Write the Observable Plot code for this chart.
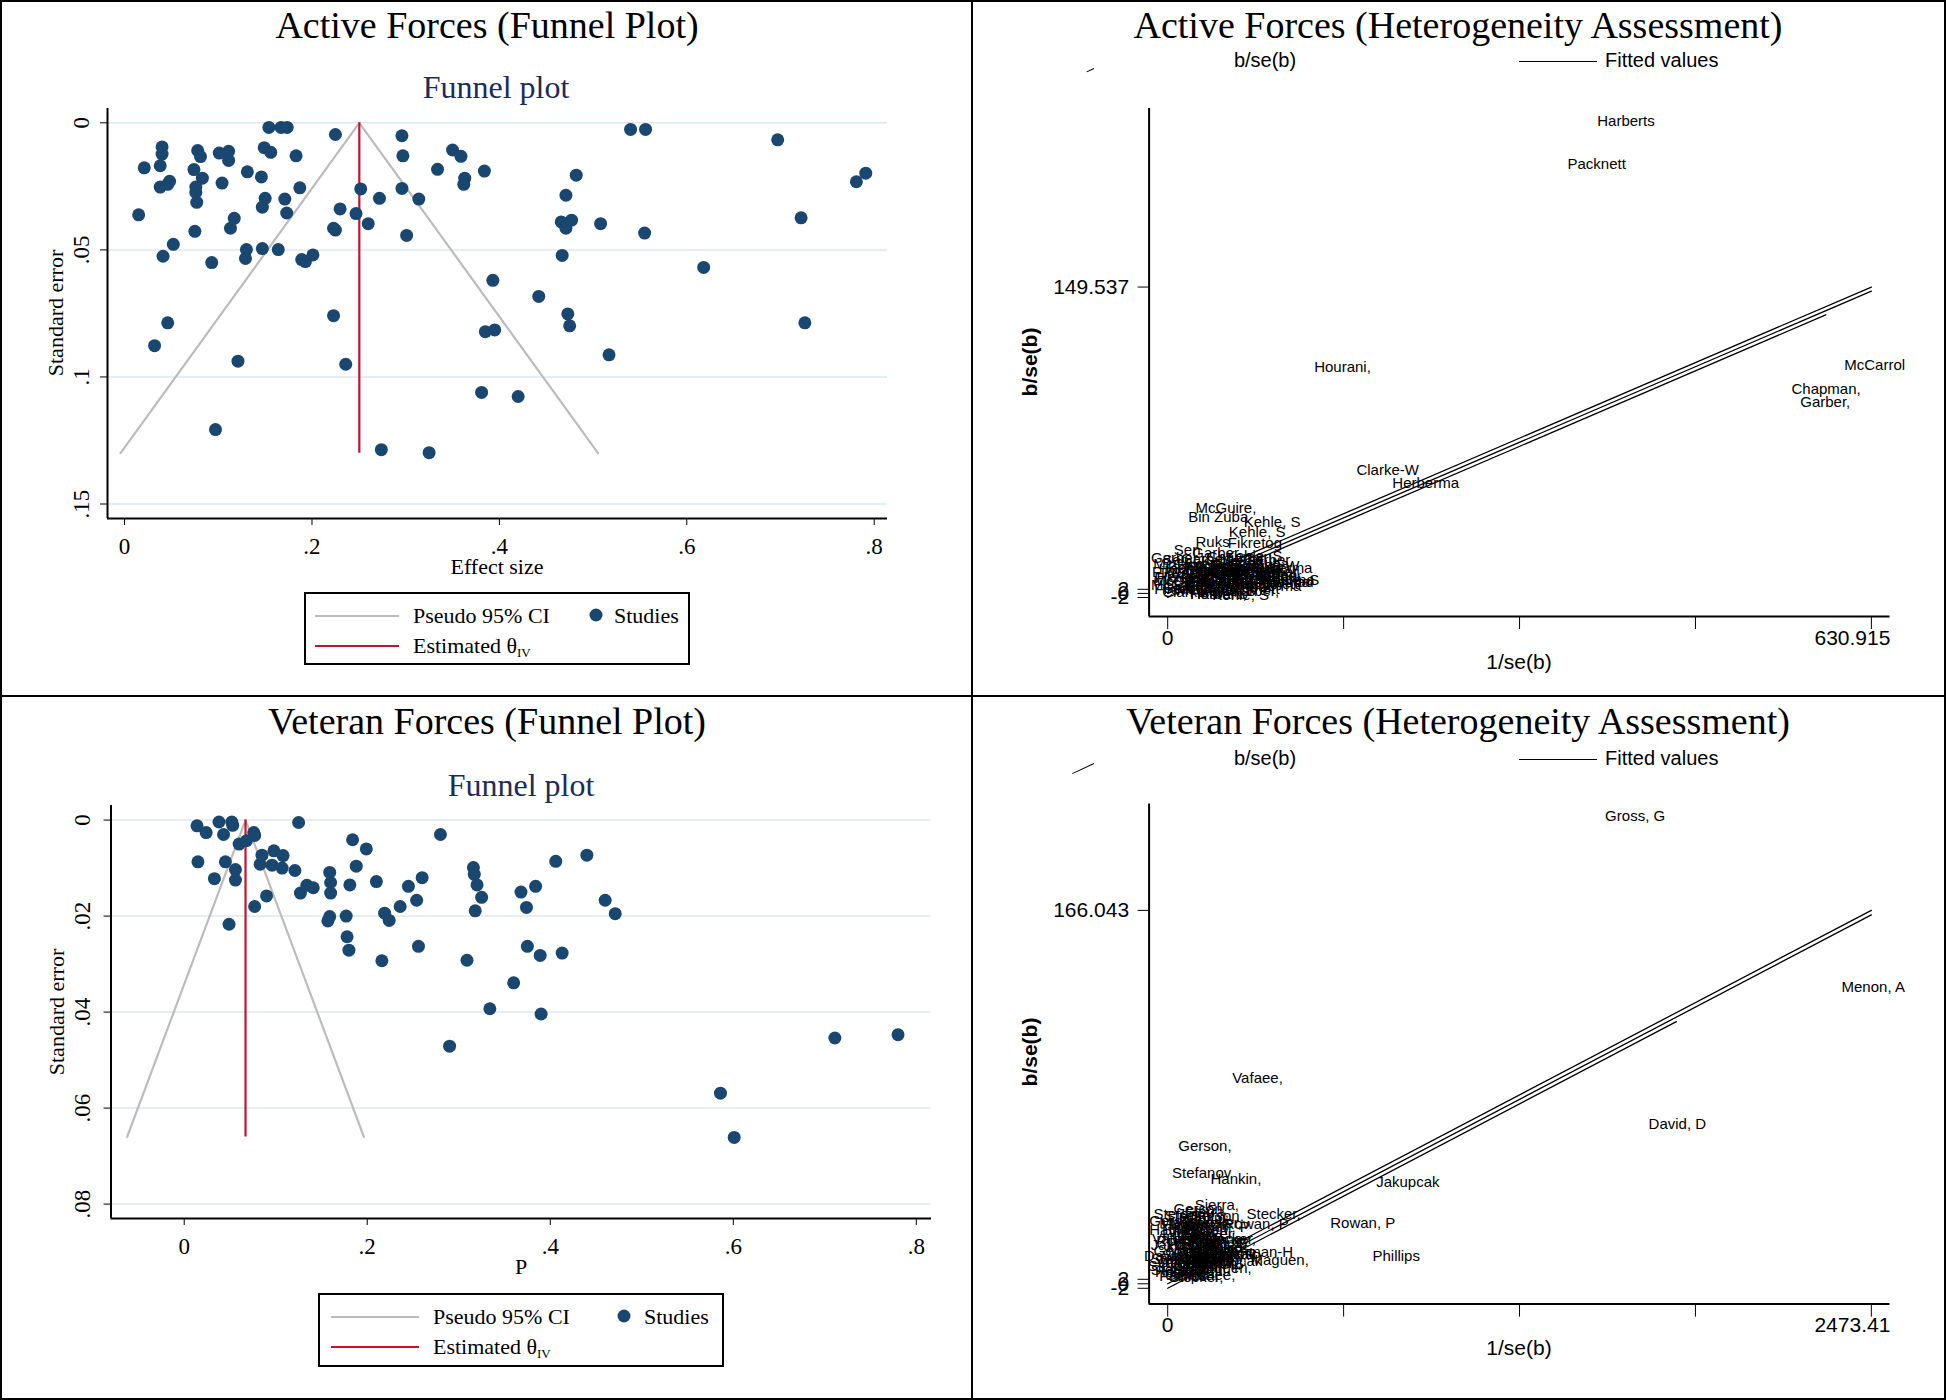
<!DOCTYPE html>
<html>
<head>
<meta charset="utf-8">
<script src="https://cdn.jsdelivr.net/npm/d3@7"></script>
<script src="https://cdn.jsdelivr.net/npm/@observablehq/plot@0.6"></script>
<style>
  html, body { margin: 0; padding: 0; background: #fff; }
  #page { position: relative; width: 1946px; height: 1400px; overflow: hidden; background: #fff; }
  .abs { position: absolute; }
  .c { transform: translate(-50%, -50%); white-space: nowrap; line-height: 1; }
  .serif { font-family: "Liberation Serif", "Times New Roman", serif; color: #000; }
  .sans { font-family: "Liberation Sans", Arial, sans-serif; color: #000; }
  .title { font-size: 38px; }
  .subtitle { font-size: 32px; color: #1c2b58; }
  .axt { font-size: 22px; }
  .rot { transform: translate(-50%, -50%) rotate(-90deg); white-space: nowrap; line-height: 1; }
  .legbox { position: absolute; border: 2px solid #000; box-sizing: border-box; background: #fff; }
  .legbox .it { position: absolute; transform: translateY(-50%); white-space: nowrap; line-height: 1; font-size: 22px; }
  .legbox .ln { position: absolute; height: 0; transform: translateY(-50%); }
  .legbox .dt { position: absolute; width: 13px; height: 13px; border-radius: 50%; background: #1a476f; transform: translate(-50%, -50%); }
  sub { font-size: 13px; vertical-align: -4px; }
  .plot { position: absolute; }
</style>
</head>
<body>
<div id="page"></div>
<script>
// ---------------- DATA ----------------
// Active forces funnel plot: effect size and standard error of each study
const activeEffect = [0.154,0.167,0.1735,0.225,0.296,0.540,0.556,0.697,0.040,0.040,0.078,0.081,0.101,0.111,0.111,0.149,0.156,0.183,0.297,0.350,0.359,0.021,0.038,0.074,0.083,0.104,0.131,0.146,0.187,0.038,0.046,0.048,0.076,0.076,0.077,0.150,0.171,0.147,0.173,0.015,0.117,0.113,0.075,0.052,0.041,0.093,0.130,0.129,0.147,0.164,0.189,0.193,0.201,0.223,0.225,0.230,0.247,0.252,0.260,0.272,0.296,0.301,0.314,0.334,0.363,0.362,0.384,0.482,0.471,0.466,0.471,0.477,0.467,0.508,0.555,0.618,0.722,0.781,0.791,0.393,0.442,0.473,0.475,0.385,0.395,0.517,0.726,0.223,0.046,0.032,0.121,0.236,0.381,0.420,0.097,0.274,0.325];
const activeSE = [0.0018,0.0018,0.0018,0.0046,0.0051,0.0026,0.0026,0.0067,0.0095,0.0123,0.0109,0.0133,0.0119,0.0112,0.0148,0.0098,0.0116,0.0130,0.0130,0.0107,0.0132,0.0177,0.0169,0.0184,0.0218,0.0237,0.0193,0.0213,0.0256,0.0253,0.0242,0.0230,0.0253,0.0274,0.0313,0.0297,0.0300,0.0332,0.0355,0.0362,0.0376,0.0415,0.0427,0.0478,0.0525,0.0550,0.0499,0.0534,0.0495,0.0499,0.0538,0.0546,0.0520,0.0415,0.0422,0.0339,0.0357,0.0260,0.0397,0.0297,0.0258,0.0443,0.0300,0.0183,0.0218,0.0242,0.0190,0.0206,0.0285,0.0390,0.0415,0.0383,0.0522,0.0397,0.0434,0.0569,0.0374,0.0232,0.0198,0.0620,0.0683,0.0752,0.0799,0.0822,0.0815,0.0913,0.0787,0.0759,0.0787,0.0877,0.0938,0.0950,0.1061,0.1077,0.1207,0.1286,0.1298];
const activeTheta = 0.2505;
const activeSeMax = 0.13;
const activeXTicks = [0, 0.2, 0.4, 0.6, 0.8];
const activeXTickLabels = ["0", ".2", ".4", ".6", ".8"];
const activeYTicks = [0, 0.05, 0.1, 0.15];
const activeYTickLabels = ["0", ".05", ".1", ".15"];

// Veteran forces funnel plot: proportion P and standard error
const veteranP = [0.014,0.024,0.038,0.043,0.052,0.053,0.060,0.068,0.076,0.077,0.125,0.015,0.045,0.033,0.056,0.056,0.083,0.085,0.098,0.096,0.108,0.107,0.121,0.077,0.090,0.049,0.127,0.134,0.141,0.184,0.199,0.280,0.159,0.160,0.160,0.181,0.188,0.210,0.245,0.260,0.254,0.236,0.219,0.224,0.159,0.157,0.177,0.178,0.180,0.216,0.256,0.316,0.317,0.320,0.325,0.318,0.309,0.368,0.384,0.374,0.375,0.389,0.413,0.406,0.440,0.460,0.471,0.360,0.334,0.390,0.290,0.586,0.601,0.711,0.780];
const veteranSE = [0.0012,0.0026,0.0004,0.0030,0.0004,0.0011,0.0050,0.0043,0.0026,0.0032,0.0005,0.0087,0.0087,0.0122,0.0103,0.0125,0.0092,0.0073,0.0064,0.0094,0.0074,0.0100,0.0105,0.0180,0.0158,0.0217,0.0152,0.0136,0.0141,0.0041,0.0060,0.0030,0.0109,0.0130,0.0152,0.0135,0.0096,0.0128,0.0138,0.0120,0.0167,0.0180,0.0194,0.0209,0.0201,0.0210,0.0200,0.0243,0.0271,0.0293,0.0263,0.0099,0.0113,0.0135,0.0161,0.0189,0.0292,0.0150,0.0138,0.0182,0.0263,0.0282,0.0277,0.0086,0.0073,0.0167,0.0195,0.0339,0.0393,0.0404,0.0471,0.0569,0.0661,0.0454,0.0447];
const veteranTheta = 0.067;
const veteranSeMax = 0.066;
const veteranXTicks = [0, 0.2, 0.4, 0.6, 0.8];
const veteranXTickLabels = ["0", ".2", ".4", ".6", ".8"];
const veteranYTicks = [0, 0.02, 0.04, 0.06, 0.08];
const veteranYTickLabels = ["0", ".02", ".04", ".06", ".08"];

// Active forces Galbraith (heterogeneity) plot: study labels at (1/se(b), b/se(b))
const activeGalNames = ["Harberts","Packnett","Hourani,","McCarrol","Chapman,","Garber,","Clarke-W","Herberma","McGuire,","Bin Zuba","Kehle, S","Kehle, S","Ruks","Fikretog","Sen","Garber,","Chapman,","Kehle, S","Garber,","McGuire,","Hourani,","Clarke-W","Bin Zuba","Herberma","Fikretog","Packnett","Harberts","Kehle, S","Chapman,","Garber,","McCarrol","Clarke-W","Hourani,","Bin Zuba","Hoystad","Herberma","Fikretog","McGuire,","Kehle, S","Packnett",
  "Sen","Garber,","Kehle, S","Bin Zuba","Hourani,","Chapman,","Clarke-W","McGuire,","Garber,","Herberma","Packnett","Harberts","Fikretog","McCarrol","Chapman,","Bin Zuba","Garber,","Clarke-W","Hourani,","Kehle, S","Packnett","Herberma",
  "Garber,","Kehle, S","Chapman,","Bin Zuba","Clarke-W","Fikretog","Hourani,","McGuire,","Herberma","Garber,","Packnett","Chapman,","Kehle, S","Harberts"];
const activeGalInvSE = [385.1,358.4,131.3,606.6,559.3,567.1,169.2,201.4,24.9,18.4,68.2,54.8,24.9,53.9,5.5,22,35,52,68,-13,8,28,48,70,-14,3,20,38,58,78,-13,5,25,45,81.5,60,-12,8,28,48,
  -5,12,30,55,-8,15,35,60,75,-10,12,32,52,-15,15,35,55,-5,20,40,65,72,
  -15,0,18,40,62,-12,28,50,68,-5,15,38,85,20];
const activeGalZ = [230.6,209.7,110.3,111.4,99.8,93.3,60.2,53.8,41.8,37.2,34.8,29.9,25.0,24.7,20.9,19.5,17.5,18,16,14.5,14,13.5,12.5,12.5,10.5,10,9.5,9,9,8.5,6,5.5,6,5,5.5,3.5,2,1.5,1,2,
  16,16.5,15.5,14.5,12,11.5,11,10.5,10.5,8,7.5,7,7,4,3.5,3,1,0.5,-0.5,-1,4.5,6.5,
  17,12.5,13,14,13.5,7.5,4.5,9.5,5.5,2.5,5,11.5,6.5,-0.5];
const activeGalSlope = 0.23385;
const activeGalInvSEMax = 630.915;
const activeGalLowerEnd = 590;
const activeGalXTicks = [0, 157.729, 315.458, 473.186, 630.915];
const activeGalXTickLabels = ["0", "", "", "", "630.915"];
const activeGalYTicks = [-2, 0, 2, 149.537];
const activeGalYTickLabels = ["-2", "0", "2", "149.537"];

// Veteran forces Galbraith plot
const veteranGalNames = ["Gross, G","Menon, A","Vafaee,","David, D","Gerson,","Stefanov","Hankin,","Jakupcak","Stecker,","Rowan, P","Rowan, P","Phillips","Maguen,","Sierra,","Rahman-H","Haskell,","David, D","Gerson,","Stecker,","Hankin,","Maguen,","Rowan, P","Phillips","Vafaee,","Stefanov","Jakupcak","Haskell,","Gerson,","Hankin,","Stecker,","Maguen,","Rowan, P","Menon, A","Phillips","Vafaee,","Gross, G","Hankin,","Jakupcak","Stefanov","Gerson,","Maguen,","Sierra,","Stecker,",
  "Stefanov","Gerson,","Maguen,","Haskell,","Hankin,","Vafaee,","Stecker,","Rowan, P","Phillips","Gross, G","Gerson,","Maguen,","Hankin,","Haskell,","Stecker,","Vafaee,","Stefanov","Rowan, P","Phillips","Jakupcak",
  "Gerson,","Hankin,","Maguen,","Stecker,","Vafaee,","Haskell,","Rowan, P","Phillips","Stefanov","Gerson,","Maguen,","Hankin,","Haskell,","Stecker,","Vafaee,","Rowan, P","Phillips"];
const veteranGalInvSE = [1537.6,2368.6,226.8,1690.3,37.1,15.3,150.5,732.8,277,571.4,197,719.7,291,95,186,17,-83,20,-10,40,10,60,-20,30,80,-60,0,50,100,-20,30,80,30,130,-40,10,60,110,-60,-10,90,60,120,
  -50,80,-30,30,-65,0,50,-40,20,70,-50,0,60,-30,20,70,-70,40,-30,90,
  -65,-20,20,70,-55,-5,45,95,-60,-10,40,80,-45,5,60,100,120];
const veteranGalZ = [208.0,131.8,91.4,71.0,61.0,49.0,46.4,45.0,31.1,27.0,26.7,12.4,10.4,34.8,14,5.9,12.2,33,30,29,26,25,22,21,20,17,17,16,16,12.5,12,13,14,13,9,8.5,9,10,6,4,7,32,20,
  31,30,27,27,24,23,22,19,19,18,14.5,15,15,11,10.5,11,8,7,3.5,13,
  28,26,24,27,20,20,18,18,11,9,10,9,5,3,4,12,16];
const veteranGalSlope = 0.06632;
const veteranGalInvSEMax = 2473.41;
const veteranGalLowerEnd = 1788;
const veteranGalXTicks = [0, 618.3525, 1236.705, 1855.0575, 2473.41];
const veteranGalXTickLabels = ["0", "", "", "", "2473.41"];
const veteranGalYTicks = [-2, 0, 2, 166.043];
const veteranGalYTickLabels = ["-2", "0", "2", "166.043"];

// ---------------- COLOURS ----------------
const NAVY = "#1a476f";
const CRANBERRY = "#c4122f";
const CI_GREY = "#bcbcbc";
const GRID = "#dde8eb";

// ---------------- HELPERS ----------------
const page = document.getElementById("page");
function el(html) { const d = document.createElement("div"); d.innerHTML = html; const n = d.firstElementChild; page.appendChild(n); return n; }
function labelMap(ticks, labels) { const m = new Map(ticks.map((t, i) => [t, labels[i]])); return d => m.has(d) ? m.get(d) : ""; }

function funnelPlot(cfg) {
  const pts = cfg.effect.map((e, i) => ({effect: e, se: cfg.se[i]}));
  const ci = [
    {effect: cfg.theta - 1.96 * cfg.seMax, se: cfg.seMax},
    {effect: cfg.theta, se: 0},
    {effect: cfg.theta + 1.96 * cfg.seMax, se: cfg.seMax}
  ];
  const yLab = labelMap(cfg.yTicks, cfg.yTickLabels);
  return Plot.plot({
    width: 973, height: 700,
    marginLeft: cfg.ml, marginRight: cfg.mr, marginTop: cfg.mt, marginBottom: cfg.mb,
    style: {background: "transparent", fontFamily: "'Liberation Serif', 'Times New Roman', serif", fontSize: "23px", color: "#000", overflow: "visible"},
    x: {domain: cfg.xDomain, ticks: cfg.xTicks, tickFormat: labelMap(cfg.xTicks, cfg.xTickLabels), tickSize: 7, tickPadding: cfg.xPad, label: null},
    y: {domain: cfg.yDomain, reverse: true, ticks: cfg.yTicks, tickFormat: () => "", tickSize: 7, label: null},
    marks: [
      Plot.ruleY(cfg.yTicks, {stroke: GRID, strokeWidth: 1.5}),
      Plot.line(ci, {x: "effect", y: "se", stroke: CI_GREY, strokeWidth: 2.2}),
      Plot.ruleX([cfg.theta], {y1: 0, y2: cfg.seMax, stroke: CRANBERRY, strokeWidth: 2.2}),
      Plot.dot(pts, {x: "effect", y: "se", r: 6.5, fill: NAVY, stroke: null}),
      Plot.ruleX([cfg.xDomain[0]], {stroke: "#000", strokeWidth: 2}),
      Plot.ruleY([cfg.yDomain[1]], {stroke: "#000", strokeWidth: 2}),
      Plot.text(cfg.yTicks, {y: d => d, text: d => yLab(d), frameAnchor: "left", dx: -cfg.yLabOff, rotate: -90, fontSize: 23, textAnchor: "middle"})
    ]
  });
}

function galbraithPlot(cfg) {
  const labels = cfg.names.map((n, i) => ({name: n, invSE: cfg.invSE[i], z: cfg.z[i]}));
  const seg = (off, end) => [{x: 0, y: off}, {x: end, y: cfg.slope * end + off}];
  const firstTick = cfg.xTicks.slice(0, 1);
  const lastTick = cfg.xTicks.slice(-1);
  return Plot.plot({
    width: 973, height: 700,
    marginLeft: cfg.ml, marginRight: cfg.mr, marginTop: cfg.mt, marginBottom: cfg.mb,
    style: {background: "transparent", fontFamily: "'Liberation Sans', Arial, sans-serif", fontSize: "21px", color: "#000", overflow: "visible"},
    x: {domain: cfg.xDomain, ticks: cfg.xTicks, tickFormat: () => "", tickSize: 13, label: null},
    y: {domain: cfg.yDomain, ticks: cfg.yTicks, tickFormat: labelMap(cfg.yTicks, cfg.yTickLabels), tickSize: 11, tickPadding: 9, label: null},
    marks: [
      Plot.line(seg(2, cfg.xMax), {x: "x", y: "y", stroke: "#000", strokeWidth: 1.3}),
      Plot.line(seg(0, cfg.xMax), {x: "x", y: "y", stroke: "#000", strokeWidth: 1.3}),
      Plot.line(seg(-2, cfg.lowerEnd), {x: "x", y: "y", stroke: "#000", strokeWidth: 1.3}),
      Plot.text(labels, {x: "invSE", y: "z", text: "name", textAnchor: "start", fontSize: 15, fontFamily: "'Liberation Sans', Arial, sans-serif", fill: "#000"}),
      Plot.ruleX([cfg.xDomain[0]], {stroke: "#000", strokeWidth: 2}),
      Plot.ruleY([cfg.yDomain[0]], {stroke: "#000", strokeWidth: 2}),
      // x tick labels: first centred on its tick, last kept inside the plot's right edge
      Plot.text(firstTick, {x: d => d, text: d => cfg.xTickLabels[0], frameAnchor: "bottom", dy: 28, fontSize: 21, textAnchor: "middle"}),
      Plot.text(lastTick, {x: d => d, text: d => cfg.xTickLabels[cfg.xTickLabels.length - 1], frameAnchor: "bottom", dy: 28, dx: 19, fontSize: 21, textAnchor: "end"})
    ]
  });
}

function place(svg, left, top) {
  const w = document.createElement("div");
  w.className = "plot";
  w.style.left = left + "px"; w.style.top = top + "px";
  w.appendChild(svg);
  page.appendChild(w);
}

// ---------------- PANELS ----------------
place(funnelPlot({
  effect: activeEffect, se: activeSE, theta: activeTheta, seMax: activeSeMax,
  xDomain: [-0.01825, 0.8142], yDomain: [-0.00563, 0.1557],
  xTicks: activeXTicks, xTickLabels: activeXTickLabels, yTicks: activeYTicks, yTickLabels: activeYTickLabels,
  ml: 107, mr: 86, mt: 108, mb: 182, xPad: 12, yLabOff: 26
}), 0, 0);

place(funnelPlot({
  effect: veteranP, se: veteranSE, theta: veteranTheta, seMax: veteranSeMax,
  xDomain: [-0.0800, 0.8166], yDomain: [-0.00304, 0.0830],
  xTicks: veteranXTicks, xTickLabels: veteranXTickLabels, yTicks: veteranYTicks, yTickLabels: veteranYTickLabels,
  ml: 110.5, mr: 42, mt: 105, mb: 182, xPad: 12, yLabOff: 28
}), 0, 700);

place(galbraithPlot({
  names: activeGalNames, invSE: activeGalInvSE, z: activeGalZ,
  slope: activeGalSlope, xMax: activeGalInvSEMax, lowerEnd: activeGalLowerEnd,
  xDomain: [-16.68, 647.6], yDomain: [-11.28, 236.7],
  xTicks: activeGalXTicks, xTickLabels: activeGalXTickLabels, yTicks: activeGalYTicks, yTickLabels: activeGalYTickLabels,
  ml: 175.6, mr: 56.5, mt: 108, mb: 84
}), 973, 0);

place(galbraithPlot({
  names: veteranGalNames, invSE: veteranGalInvSE, z: veteranGalZ,
  slope: veteranGalSlope, xMax: veteranGalInvSEMax, lowerEnd: veteranGalLowerEnd,
  xDomain: [-65.4, 2539], yDomain: [-9.03, 213.3],
  xTicks: veteranGalXTicks, xTickLabels: veteranGalXTickLabels, yTicks: veteranGalYTicks, yTickLabels: veteranGalYTickLabels,
  ml: 175.6, mr: 56.5, mt: 103.6, mb: 96.4
}), 973, 700);

// ---------------- TEXT: titles, axis titles ----------------
el(`<div class="abs c serif title" style="left:487px;top:25px">Active Forces (Funnel Plot)</div>`);
el(`<div class="abs c serif title" style="left:1458px;top:25px">Active Forces (Heterogeneity Assessment)</div>`);
el(`<div class="abs c serif title" style="left:487px;top:721px">Veteran Forces (Funnel Plot)</div>`);
el(`<div class="abs c serif title" style="left:1458px;top:721px">Veteran Forces (Heterogeneity Assessment)</div>`);

el(`<div class="abs c serif subtitle" style="left:496px;top:87px">Funnel plot</div>`);
el(`<div class="abs c serif subtitle" style="left:521px;top:785px">Funnel plot</div>`);

el(`<div class="abs c serif axt" style="left:497px;top:567px">Effect size</div>`);
el(`<div class="abs c serif axt" style="left:521px;top:1267px">P</div>`);
el(`<div class="abs rot serif axt" style="left:56px;top:313px">Standard error</div>`);
el(`<div class="abs rot serif axt" style="left:57px;top:1012px">Standard error</div>`);

el(`<div class="abs rot sans" style="left:1029px;top:362px;font-size:21px;font-weight:bold">b/se(b)</div>`);
el(`<div class="abs rot sans" style="left:1029px;top:1052px;font-size:21px;font-weight:bold">b/se(b)</div>`);
el(`<div class="abs c sans" style="left:1519px;top:661px;font-size:21px">1/se(b)</div>`);
el(`<div class="abs c sans" style="left:1519px;top:1347px;font-size:21px">1/se(b)</div>`);

// Galbraith legends
function galLegend(y, markLen) {
  el(`<div class="abs c sans" style="left:1265px;top:${y}px;font-size:20px">b/se(b)</div>`);
  el(`<div class="abs" style="left:1519px;top:${y + 1}px;width:78px;border-top:1.6px solid #000"></div>`);
  el(`<div class="abs sans" style="left:1605px;top:${y}px;font-size:20px;transform:translateY(-50%);white-space:nowrap;line-height:1">Fitted values</div>`);
  el(`<div class="abs" style="left:${1094 - markLen}px;top:${y + 10 - markLen * 0.2}px;width:${markLen}px;border-top:1.6px solid #000;transform:rotate(-25deg);transform-origin:right center"></div>`);
}
galLegend(60, 8);
galLegend(758, 24);

// Funnel legends
function funnelLegend(left, top, w, h, lineX, lineW, textX, dotX, studX) {
  const box = document.createElement("div");
  box.className = "legbox serif";
  box.style.cssText = `left:${left}px;top:${top}px;width:${w}px;height:${h}px`;
  box.innerHTML =
    `<div class="ln" style="left:${lineX}px;top:22px;width:${lineW}px;border-top:2.5px solid ${CI_GREY}"></div>` +
    `<div class="it" style="left:${textX}px;top:22px">Pseudo 95% CI</div>` +
    `<div class="dt" style="left:${dotX}px;top:21px"></div>` +
    `<div class="it" style="left:${studX}px;top:22px">Studies</div>` +
    `<div class="ln" style="left:${lineX}px;top:52px;width:${lineW}px;border-top:2.5px solid ${CRANBERRY}"></div>` +
    `<div class="it" style="left:${textX}px;top:53px">Estimated θ<sub>IV</sub></div>`;
  page.appendChild(box);
}
funnelLegend(304, 592, 386, 73, 9, 84, 107, 290, 308);
funnelLegend(318, 1293, 406, 74, 11, 88, 113, 304, 324);

// ---------------- frame & dividers ----------------
el(`<div class="abs" style="left:0;top:0;width:1946px;height:1400px;border:2px solid #000;box-sizing:border-box"></div>`);
el(`<div class="abs" style="left:971px;top:0;width:2px;height:1400px;background:#000"></div>`);
el(`<div class="abs" style="left:0;top:695px;width:1946px;height:2px;background:#000"></div>`);
</script>
</body>
</html>
